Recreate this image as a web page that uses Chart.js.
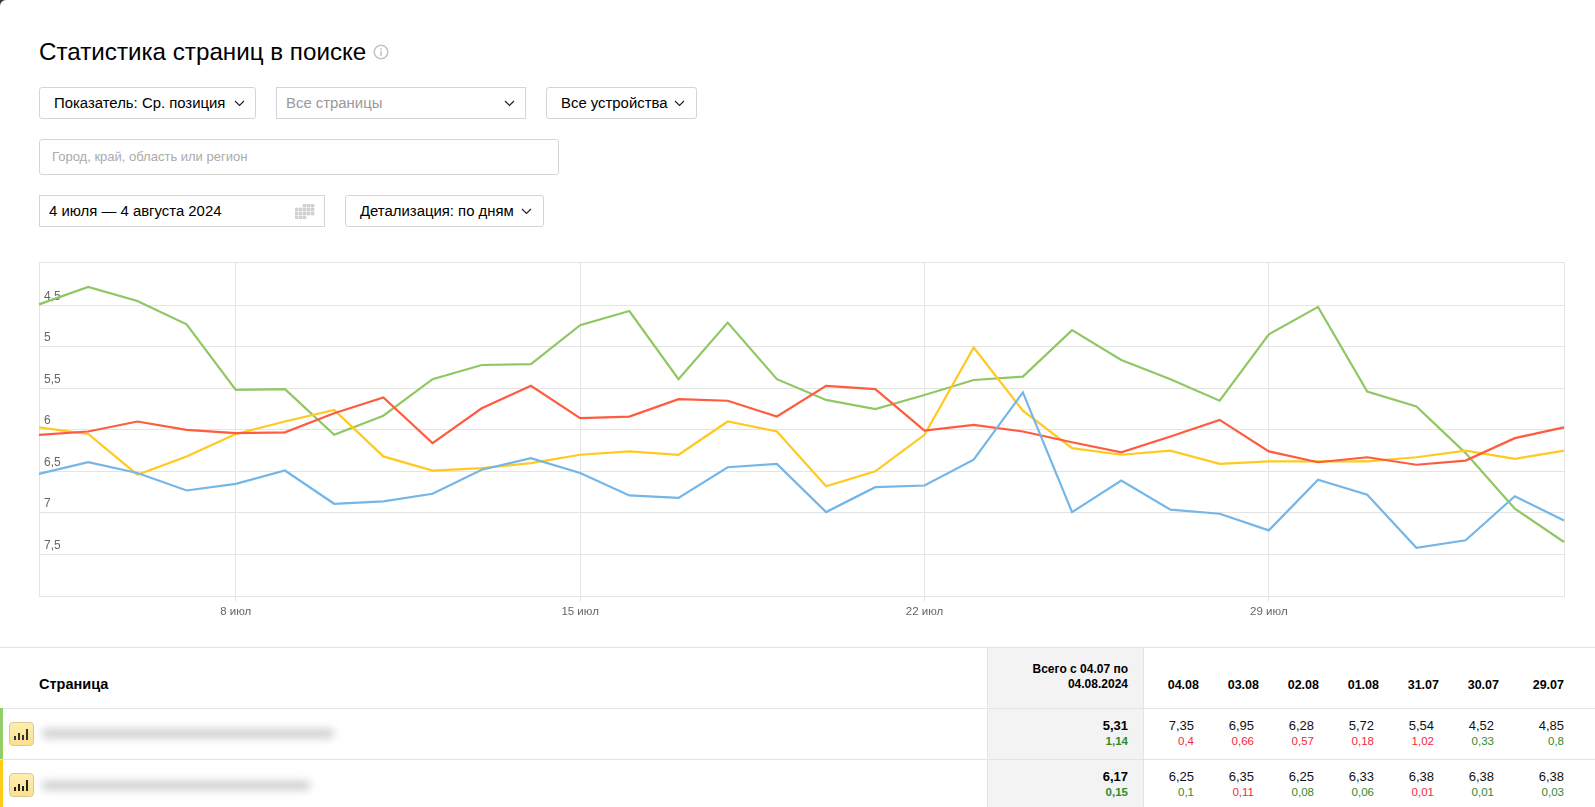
<!DOCTYPE html>
<html lang="ru">
<head>
<meta charset="utf-8">
<title>Статистика страниц в поиске</title>
<script src="https://cdn.jsdelivr.net/npm/chart.js"></script>
<style>
  html, body { margin: 0; padding: 0; background: #2f3b42; }
  #page {
    position: relative; width: 1595px; height: 807px; overflow: hidden;
    background: #fff; border-top-left-radius: 6px;
    font-family: "Liberation Sans", Arial, sans-serif; color: #000;
  }
  #page > * { position: absolute; box-sizing: border-box; }
  .txt { white-space: nowrap; line-height: 18px; }
  .box { border: 1px solid #d5d5d5; border-radius: 3px; background: #fff; }
  .chev { width: 11px; height: 7px; }
  .hline { left: 0; width: 1595px; height: 1px; background: #e4e4e4; }
  .cell { white-space: nowrap; text-align: right; line-height: 16px; }
  .blur { background: #cdcdcd; height: 9px; filter: blur(4px); border-radius: 4px; }
  .pill {
    left: 9px; width: 25px; height: 24px; border: 1px solid #dcc88e; border-radius: 4px;
    background: linear-gradient(#fdeeb0, #fbe08e);
  }
</style>
</head>
<body>
<div id="page">
  <div class="txt" style="left:39px;top:40px;font-size:24.2px;line-height:24px">Статистика страниц в поиске</div>
  <svg style="left:373px;top:44px" width="16" height="16" viewBox="0 0 16 16">
    <circle cx="8" cy="8" r="6.8" fill="none" stroke="#c4c4c4" stroke-width="1.6"/>
    <rect x="7.2" y="7" width="1.6" height="5" fill="#c4c4c4"/><rect x="7.2" y="4.2" width="1.6" height="1.6" fill="#c4c4c4"/>
  </svg>

  <div class="box" style="left:39px;top:87px;width:217px;height:32px"></div>
  <div class="txt" style="left:54px;top:94px;font-size:14.9px">Показатель: Ср. позиция</div>
  <svg class="chev" style="left:234px;top:100px" viewBox="0 0 11 7"><path d="M1 1l4.500 4.500L10 1" fill="none" stroke="#222" stroke-width="1.2"/></svg>

  <div class="box" style="left:276px;top:87px;width:250px;height:32px;border-radius:0"></div>
  <div class="txt" style="left:286px;top:94px;font-size:14.9px;color:#999">Все страницы</div>
  <svg class="chev" style="left:504px;top:100px" viewBox="0 0 11 7"><path d="M1 1l4.500 4.500L10 1" fill="none" stroke="#222" stroke-width="1.2"/></svg>

  <div class="box" style="left:546px;top:87px;width:151px;height:32px"></div>
  <div class="txt" style="left:561px;top:94px;font-size:14.9px">Все устройства</div>
  <svg class="chev" style="left:674px;top:100px" viewBox="0 0 11 7"><path d="M1 1l4.500 4.500L10 1" fill="none" stroke="#222" stroke-width="1.2"/></svg>

  <div class="box" style="left:39px;top:139px;width:520px;height:36px"></div>
  <div class="txt" style="left:52px;top:148px;font-size:13px;color:#aaa">Город, край, область или регион</div>

  <div class="box" style="left:39px;top:195px;width:286px;height:32px;border-radius:0"></div>
  <div class="txt" style="left:49px;top:202px;font-size:14.9px">4 июля — 4 августа 2024</div>
  <svg style="left:295px;top:204px" width="20" height="15" viewBox="0 0 20 15" fill="#d2d2d2" stroke="#d2d2d2" stroke-width="0.6">
    <path d="M8 0h3v3H8zM12 0h3v3h-3zM16 0h3v3h-3zM0 4h3v3H0zM4 4h3v3H4zM8 4h3v3H8zM12 4h3v3h-3zM16 4h3v3h-3zM0 8h3v3H0zM4 8h3v3H4zM8 8h3v3H8zM12 8h3v3h-3zM16 8h3v3h-3zM0 12h3v3H0zM4 12h3v3H4zM8 12h3v3H8z"/>
  </svg>

  <div class="box" style="left:345px;top:195px;width:199px;height:32px"></div>
  <div class="txt" style="left:360px;top:202px;font-size:14.9px">Детализация: по дням</div>
  <svg class="chev" style="left:521px;top:208px" viewBox="0 0 11 7"><path d="M1 1l4.500 4.500L10 1" fill="none" stroke="#222" stroke-width="1.2"/></svg>

  <canvas id="chart" width="1595" height="400" style="left:0;top:240px;width:1595px;height:400px"></canvas>

  <div style="left:987px;top:647px;width:157px;height:160px;background:#f3f3f3;border-left:1px solid #e4e4e4;border-right:1px solid #e4e4e4"></div>
  <div class="hline" style="top:647px"></div>
  <div class="hline" style="top:708px"></div>
  <div class="hline" style="top:759px"></div>

  <div class="txt" style="left:39px;top:675px;font-size:14.5px;font-weight:bold">Страница</div>
  <div class="cell" style="left:987px;width:141px;top:662px;font-size:12px;font-weight:bold;line-height:15px">Всего с 04.07 по<br>04.08.2024</div>

  <div style="left:0;top:708px;width:3px;height:51px;background:#93cf68"></div>
  <div style="left:0;top:760px;width:3px;height:47px;background:#ffcc1a"></div>

  <div class="pill" style="top:722px"></div>
  <div class="pill" style="top:773px"></div>
  <svg style="left:14px;top:728px" width="15" height="12" viewBox="0 0 15 12" fill="#333"><path d="M0 8h2v4H0zM4 5h2v7H4zM8 7h2v5H8zM12 1h2v11h-2z"/></svg>
  <svg style="left:14px;top:779px" width="15" height="12" viewBox="0 0 15 12" fill="#222"><path d="M0 8h2v4H0zM4 5h2v7H4zM8 7h2v5H8zM12 1h2v11h-2z"/></svg>
  <div class="blur" style="left:42px;top:729px;width:292px"></div>
  <div class="blur" style="left:42px;top:781px;width:268px"></div>
</div>

<script>
const dayLabels = [
  "4 июл", "5 июл", "6 июл", "7 июл", "8 июл", "9 июл", "10 июл", "11 июл",
  "12 июл", "13 июл", "14 июл", "15 июл", "16 июл", "17 июл", "18 июл", "19 июл",
  "20 июл", "21 июл", "22 июл", "23 июл", "24 июл", "25 июл", "26 июл", "27 июл",
  "28 июл", "29 июл", "30 июл", "31 июл", "1 авг", "2 авг", "3 авг", "4 авг",
];
const shownDays = ["8 июл", "15 июл", "22 июл", "29 июл"];
const shownPositions = [4.5, 5, 5.5, 6, 6.5, 7, 7.5];

const blueValues = [
  6.53, 6.39, 6.52, 6.73, 6.65, 6.49, 6.89, 6.86, 6.77, 6.48, 6.34, 6.52, 6.79, 6.82, 6.45, 6.41,
  6.99, 6.69, 6.67, 6.36, 5.55, 6.99, 6.61, 6.96, 7.01, 7.21, 6.6, 6.78, 7.42, 7.33, 6.8, 7.09,
];
const redValues = [
  6.06, 6.02, 5.9, 6.0, 6.04, 6.03, 5.8, 5.61, 6.16, 5.74, 5.47, 5.86, 5.84, 5.63, 5.65, 5.84,
  5.47, 5.51, 6.01, 5.94, 6.02, 6.15, 6.27, 6.08, 5.88, 6.26, 6.39, 6.33, 6.42, 6.37, 6.1, 5.97,
];
const yellowValues = [
  5.97, 6.05, 6.54, 6.32, 6.05, 5.9, 5.76, 6.32, 6.49, 6.46, 6.4, 6.3, 6.26, 6.3, 5.9, 6.02,
  6.68, 6.5, 6.06, 5.01, 5.77, 6.22, 6.3, 6.25, 6.41, 6.38, 6.38, 6.38, 6.33, 6.25, 6.35, 6.25,
];
const greenValues = [
  4.49, 4.28, 4.45, 4.73, 5.52, 5.51, 6.06, 5.83, 5.39, 5.22, 5.21, 4.74, 4.57, 5.39, 4.71, 5.39,
  5.64, 5.75, 5.58, 5.4, 5.36, 4.8, 5.16, 5.39, 5.65, 4.85, 4.52, 5.54, 5.72, 6.28, 6.95, 7.35,
];

// table under the chart
const tableDates = ["04.08", "03.08", "02.08", "01.08", "31.07", "30.07", "29.07"];
const tableRight = [1199, 1259, 1319, 1379, 1439, 1499, 1564];
const row1Values = ["7,35", "6,95", "6,28", "5,72", "5,54", "4,52", "4,85"];
const row1Deltas = ["0,4", "0,66", "0,57", "0,18", "1,02", "0,33", "0,8"];
const row1Up = [false, false, false, false, false, true, true];
const row2Values = ["6,25", "6,35", "6,25", "6,33", "6,38", "6,38", "6,38"];
const row2Deltas = ["0,1", "0,11", "0,08", "0,06", "0,01", "0,01", "0,03"];
const row2Up = [true, false, true, true, false, true, true];

const page = document.getElementById("page");
function addCell(text, right, top, size, color, bold) {
  const d = document.createElement("div");
  d.className = "cell";
  d.textContent = text;
  d.style.cssText = `right:${1595 - right}px;top:${top - 8}px;font-size:${size}px;color:${color};font-weight:${bold ? "bold" : "normal"}`;
  page.appendChild(d);
}

const RED = "#f5283c", GREEN = "#2f8a2f";
tableDates.forEach((date, i) => {
  const r = tableRight[i];
  const last = i === tableDates.length - 1;
  const vr = last ? r : r - 5;
  addCell(date, r, 685, 12.5, "#000", true);
  addCell(row1Values[i], vr, 726, 13, "#111", false);
  addCell(row1Deltas[i], vr, 741, 11.5, row1Up[i] ? GREEN : RED, false);
  addCell(row2Values[i], vr, 777, 13, "#111", false);
  addCell(row2Deltas[i], vr, 792, 11.5, row2Up[i] ? GREEN : RED, false);
});
addCell("5,31", 1128, 726, 13, "#000", true);
addCell("1,14", 1128, 741, 11.5, GREEN, true);
addCell("6,17", 1128, 777, 13, "#000", true);
addCell("0,15", 1128, 792, 11.5, GREEN, true);

function lineSet(data, color) {
  return { data, borderColor: color, borderWidth: 2.2, pointRadius: 0, tension: 0, fill: false };
}

const yTop = 3.98, yBottom = 8;

new Chart(document.getElementById("chart"), {
  type: "line",
  data: {
    labels: dayLabels,
    datasets: [
      lineSet(blueValues, "#74b6e8"),
      lineSet(redValues, "#ff5b3e"),
      lineSet(yellowValues, "#ffc91f"),
      lineSet(greenValues, "#8fc763"),
    ],
  },
  options: {
    responsive: false,
    animation: false,
    layout: { padding: { left: 39, right: 31, top: 22, bottom: 0 } },
    plugins: { legend: { display: false }, tooltip: { enabled: false } },
    scales: {
      x: {
        offset: false,
        afterBuildTicks(scale) {
          const lastIdx = dayLabels.length - 1;
          scale.ticks = scale.ticks.filter(t =>
            t.value === 0 || t.value === lastIdx || shownDays.includes(dayLabels[t.value]));
        },
        afterFit(scale) { scale.height = 44; },
        grid: {
          color: "#e4e4e4",
          lineWidth: 1,
          tickLength: 5,
          tickColor: ctx => (shownDays.includes(dayLabels[ctx.tick && ctx.tick.value]) ? "#e4e4e4" : "transparent"),
        },
        border: { color: "#e4e4e4" },
        ticks: {
          autoSkip: false,
          maxRotation: 0,
          color: "#666",
          padding: 4,
          font: { family: "'Liberation Sans', Arial, sans-serif", size: 11.5 },
          callback(value) {
            const lbl = dayLabels[value];
            return shownDays.includes(lbl) ? lbl : "";
          },
        },
      },
      y: {
        reverse: true,
        min: yTop,
        max: yBottom,
        afterFit(scale) { scale.width = 0; },
        afterBuildTicks(scale) {
          scale.ticks = [yTop].concat(shownPositions, [yBottom]).map(value => ({ value }));
        },
        grid: { color: "#e4e4e4", lineWidth: 1, drawTicks: false },
        border: { color: "#e4e4e4" },
        ticks: {
          mirror: true,
          padding: 5,
          labelOffset: -9,
          color: "#666",
          font: { family: "'Liberation Sans', Arial, sans-serif", size: 12 },
          callback(value) {
            return shownPositions.includes(value) ? String(value).replace(".", ",") : "";
          },
        },
      },
    },
  },
});
</script>
</body>
</html>
